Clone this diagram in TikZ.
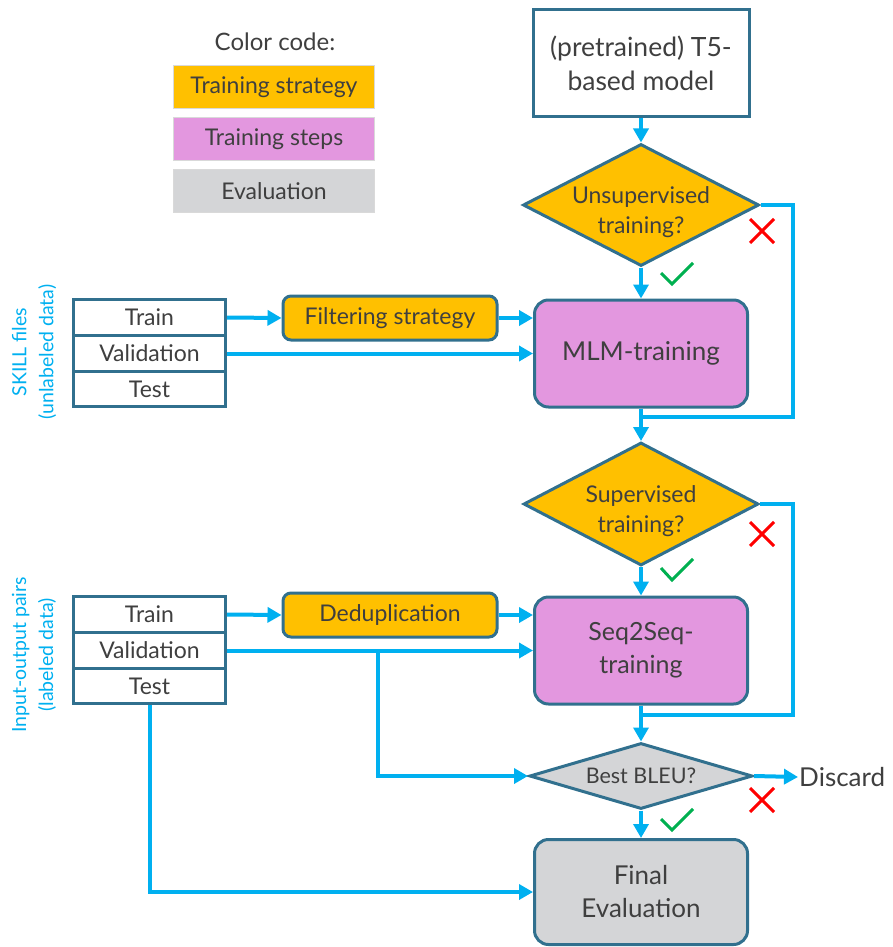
\documentclass[tikz,border=0pt]{standalone}
\usepackage{fontspec}
\setmainfont{Lato}
\definecolor{strategy}{HTML}{FFC000}
\definecolor{steps}{HTML}{E397DF}
\definecolor{evalgray}{HTML}{D4D5D7}
\definecolor{flow}{HTML}{00B0F0}
\definecolor{frame}{HTML}{31708E}
\definecolor{ink}{HTML}{3F3F3F}
\definecolor{nogo}{HTML}{FF0000}
\definecolor{okgreen}{HTML}{00B050}
\usetikzlibrary{arrows.meta,shapes.geometric}
\newcommand{\lowtop}{\rule{0pt}{32pt}}
\tikzset{
  box/.style={draw=frame,line width=3pt,text=ink,align=center,inner sep=0pt},
  legendbox/.style={draw=black!15,line width=.8pt,text=ink,minimum width=201pt,minimum height=43pt,font=\fontsize{23}{27}\selectfont},
  stepbox/.style={box,fill=steps,rounded corners=14pt,minimum width=213pt,minimum height=107pt,font=\fontsize{26}{33}\selectfont},
  stratbox/.style={box,fill=strategy,rounded corners=8pt,minimum width=214pt,minimum height=44pt,font=\fontsize{23}{27}\selectfont},
  decision/.style={box,diamond,aspect=2,inner sep=-8pt,fill=strategy,font=\fontsize{23}{30}\selectfont},
  datarow/.style={box,fill=white,minimum width=152pt,minimum height=35.5pt,font=\fontsize{23}{26}\selectfont},
  sidelabel/.style={rotate=90,text=flow,align=center,font=\fontsize{19.5}{27}\selectfont},
  line/.style={flow,line width=4pt},
  arrow/.style={line,-{Triangle[length=14pt,width=15pt]}},
  yes/.style={okgreen,line width=3pt},
  no/.style={nogo,line width=3pt}
}
\begin{document}
\begin{tikzpicture}[x=1pt,y=-1pt]
\useasboundingbox (0,0) rectangle (893,947);
\node[text=ink,font=\fontsize{24}{28}\selectfont] (colorcode) at (275,42) {Color code:};
\node[legendbox,fill=strategy] (lstrat) at (274,87) {Training strategy};
\node[legendbox,fill=steps] (lsteps) at (274,139) {Training steps};
\node[legendbox,fill=evalgray] (leval) at (274,191) {Evaluation};

\node[box,fill=white,minimum width=216pt,minimum height=107pt,font=\fontsize{26.5}{34}\selectfont] (t5) at (641,63.5) {(pretrained) T5-\\based model};
\node[decision,minimum width=236pt,minimum height=122pt] (unsup) at (641,205) {\lowtop Unsupervised\\training?};
\node[stepbox] (mlm) at (641,353.5) {MLM-training};
\node[decision,minimum width=235pt,minimum height=123pt] (sup) at (641,504) {\lowtop Supervised\\training?};
\node[stepbox,font=\fontsize{25}{33}\selectfont] (seq) at (641,650.5) {Seq2Seq-\\training};
\node[decision,aspect=3.4,fill=evalgray,minimum width=223pt,minimum height=66pt,font=\fontsize{21.5}{26}\selectfont] (bleu) at (641,776) {Best BLEU?};
\node[stepbox,fill=evalgray,minimum height=105pt] (final) at (641,892) {Final\\Evaluation};
\node[anchor=west,inner sep=1pt,text=ink,font=\fontsize{26}{30}\selectfont] (discard) at (798,777) {Discard};

\node[datarow] (sTrain) at (149.5,317.5) {Train};
\node[datarow] (sVal) at (149.5,353.5) {Validation};
\node[datarow] (sTest) at (149.5,389) {Test};
\node[stratbox] (filter) at (390,318) {Filtering strategy};
\node[sidelabel] (skill) at (34,352) {SKILL files\\(unlabeled data)};

\node[datarow] (pTrain) at (149.5,614.5) {Train};
\node[datarow] (pVal) at (149.5,650.5) {Validation};
\node[datarow] (pTest) at (149.5,686) {Test};
\node[stratbox] (dedup) at (390,615) {Deduplication};
\node[sidelabel] (pairs) at (34,655) {Input-output pairs\\(labeled data)};

\coordinate (loop1) at (793,417);
\coordinate (join1) at (641,417);
\coordinate (loop2) at (793,715);
\coordinate (join2) at (641,715);
\coordinate (branch) at (378,650.5);

\draw[arrow] (t5.south) -- (unsup.north);
\draw[arrow] (unsup.south) -- (mlm.north);
\draw[line] (unsup.east) -| (loop1) -- (join1);
\draw[arrow] (mlm.south) -- (sup.north);
\draw[arrow] (sTrain.east) -- (filter.west);
\draw[arrow] (filter.east) -- (filter.east -| mlm.west);
\draw[arrow] (sVal.east) -- (sVal.east -| mlm.west);

\draw[arrow] (sup.south) -- (seq.north);
\draw[line] (sup.east) -| (loop2) -- (join2);
\draw[arrow] (seq.south) -- (bleu.north);
\draw[arrow] (pTrain.east) -- (dedup.west);
\draw[arrow] (dedup.east) -- (dedup.east -| seq.west);
\draw[arrow] (pVal.east) -- (pVal.east -| seq.west);
\draw[arrow] (branch) |- (bleu.west);
\draw[arrow] (bleu.east) -- (discard.west);
\draw[arrow] (bleu.south) -- (final.north);
\draw[arrow] (pTest.south) |- (final.west);

\draw[yes] (661,273) -- (672,284) -- (693,263);
\draw[no] (750,219) -- (774,243) (750,243) -- (774,219);
\draw[yes] (661,568) -- (672,580) -- (693,559);
\draw[no] (750,522) -- (774,546) (750,546) -- (774,522);
\draw[yes] (661,819) -- (672,830) -- (693,809);
\draw[no] (750,788) -- (774,812) (750,812) -- (774,788);
\end{tikzpicture}
\end{document}
